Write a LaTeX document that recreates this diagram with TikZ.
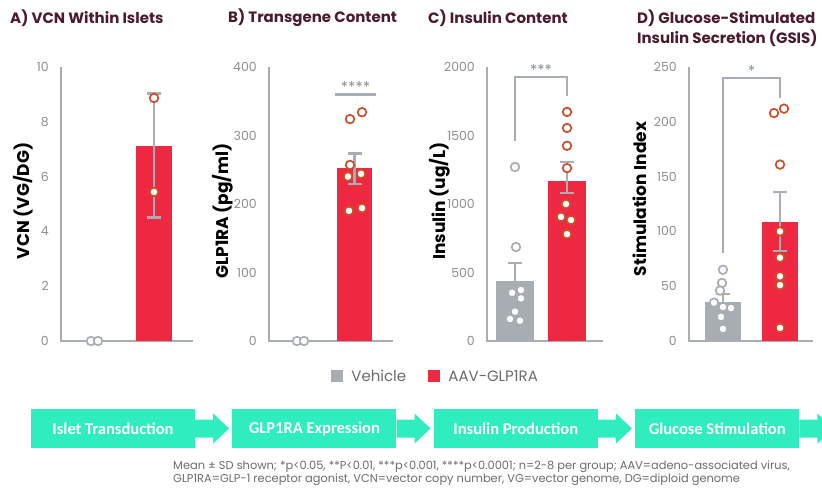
\documentclass[tikz,border=0pt]{standalone}
\usepackage{fontspec}
\setmainfont{Poppins}
\newfontfamily\stepfont{Carlito}
\usetikzlibrary{positioning}

\definecolor{vehgray}{HTML}{A8ACB3}
\definecolor{aavred}{HTML}{EF2841}
\definecolor{dotorange}{HTML}{C9502A}
\definecolor{axisgray}{HTML}{A9AEB5}
\definecolor{titlemaroon}{HTML}{4A1A2E}
\definecolor{stepteal}{HTML}{30EDBF}
\definecolor{ticktext}{HTML}{8E8E8E}
\definecolor{notegray}{HTML}{6B6B6B}

\tikzset{%
	axis line/.style={
		draw=axisgray,
		line width=2.5pt
	},
	err line/.style={
		draw=axisgray,
		line width=2.5pt
	},
	veh bar/.style={fill=vehgray},
	aav bar/.style={fill=aavred},
	veh dot/.style={draw=vehgray, fill=white, line width=1.7pt},
	aav dot/.style={draw=dotorange, fill=white, line width=1.7pt},
	panel title/.style={
		anchor=west,
		inner sep=0pt,
		align=left,
		text=titlemaroon,
		font=\bfseries\fontsize{15}{20}\selectfont
	},
	y label/.style={
		rotate=90,
		inner sep=0pt,
		font=\bfseries\fontsize{17}{17}\selectfont
	},
	tick label/.style={
		anchor=east,
		inner sep=0pt,
		text=ticktext,
		font=\fontsize{12.5}{12.5}\selectfont
	},
	sig label/.style={
		above,
		inner sep=1pt,
		text=ticktext,
		font=\fontsize{15}{15}\selectfont
	},
	legend key/.style={
		minimum size=12pt,
		inner sep=0pt
	},
	legend text/.style={
		inner sep=0pt,
		text=notegray,
		font=\fontsize{15}{15}\selectfont
	},
	step box/.style={
		fill=stepteal,
		text=white,
		minimum width=164pt,
		minimum height=39pt,
		inner sep=0pt,
		font=\stepfont\bfseries\fontsize{16.5}{16.5}\selectfont
	},
	note text/.style={
		align=left,
		inner sep=0pt,
		text=notegray,
		font=\fontsize{11.4}{11.7}\selectfont
	},
}

% SD bar with caps: x, lower, upper
\newcommand{\errbar}[3]{%
	\draw [err line] (#1,#2) -- (#1,#3) (#1-7,#3) -- (#1+7,#3) (#1-7,#2) -- (#1+7,#2);}

\begin{document}
\begin{tikzpicture}[x=1pt, y=-1pt]
		\useasboundingbox (0,0) rectangle (822,496);
		
		% A) VCN
		\node [panel title] (title-a) at (10,18) {A) VCN Within Islets};
		\node [y label] (ylab-a) at (23,201) {VCN (VG/DG)};
		\begin{scope}[xshift=61pt, yshift=-341pt, y=27.4pt]
		\foreach \v in {0,2,...,10}
		\node [tick label] (tick-a-\v) at (-12,\v) {\v};
		\draw [axis line] (0,10) -- (0,0) -- (132,0);
		\fill [aav bar] (75,0) rectangle (111,7.13);
		\errbar{93}{4.5}{9.04}
		\foreach \dx/\v in {30/0,37/0}
		\draw [veh dot] (\dx,\v) circle [radius=4.3pt];
		\foreach \dx/\v in {93/8.87,93/5.44}
		\draw [aav dot] (\dx,\v) circle [radius=4.3pt];
		\end{scope}
		
		% B) GLP1RA
		\node [panel title] (title-b) at (228,18) {B) Transgene Content};
		\node [y label] (ylab-b) at (223,211) {GLP1RA (pg/ml)};
		\begin{scope}[xshift=269pt, yshift=-341pt, y=0.685pt]
		\foreach \v in {0,100,...,400}
		\node [tick label] (tick-b-\v) at (-12,\v) {\v};
		\draw [axis line] (0,400) -- (0,0) -- (124,0);
		\fill [aav bar] (68,0) rectangle (103,252.6);
		\errbar{85.5}{229}{274}
		\draw [err line] (66,360) -- (107,360) node [sig label, midway] (sig-b) {****};
		\foreach \dx/\v in {28/0,35/0}
		\draw [veh dot] (\dx,\v) circle [radius=4.3pt];
		\foreach \dx/\v in {81/324,93/334,81/257,79/240,92/244,80/190,93/194}
		\draw [aav dot] (\dx,\v) circle [radius=4.3pt];
		\end{scope}
		
		% C) insulin
		\node [panel title] (title-c) at (428,18) {C) Insulin Content};
		\node [y label] (ylab-c) at (440,201) {Insulin (ug/L)};
		\begin{scope}[xshift=487pt, yshift=-341pt, y=0.137pt]
		\foreach \v in {0,500,...,2000}
		\node [tick label] (tick-c-\v) at (-12,\v) {\v};
		\draw [axis line] (0,2000) -- (0,0) -- (116,0);
		\fill [veh bar] (9,0) rectangle (47,438);
		\fill [aav bar] (61,0) rectangle (99,1168);
		\errbar{28}{307}{569}
		\errbar{80}{1080}{1306}
		\draw [err line] (28,1460) -- (28,1927) -- (80,1927) -- (80,1788);
		\node [sig label] (sig-c) at (54,1927) {***};
		\foreach \dx/\v in {28/1270,29/686,25/352,34/372,34/311,28/214,23/161,33/148}
		\draw [veh dot] (\dx,\v) circle [radius=4.3pt];
		\foreach \dx/\v in {80/1672,80/1555,80/1425,80/1262,79/1000,74/906,84/883,80/780}
		\draw [aav dot] (\dx,\v) circle [radius=4.3pt];
		\end{scope}
		
		% D) GSIS
		\node [panel title] (title-d) at (637,28) {D) Glucose-Stimulated\\Insulin Secretion (GSIS)};
		\node [y label] (ylab-d) at (640,199) {Stimulation Index};
		\begin{scope}[xshift=689pt, yshift=-341pt, y=1.096pt]
		\foreach \v in {0,50,...,250}
		\node [tick label] (tick-d-\v) at (-12,\v) {\v};
		\draw [axis line] (0,250) -- (0,0) -- (124,0);
		\fill [veh bar] (16,0) rectangle (52,35.6);
		\fill [aav bar] (73,0) rectangle (109,108.6);
		\errbar{34}{28}{43}
		\errbar{91}{82}{136}
		\draw [err line] (34,80) -- (34,240) -- (91,240) -- (91,222);
		\node [sig label] (sig-d) at (62.5,240) {*};
		\foreach \dx/\v in {34/65,33/53,31/46,25/35,34/31,42/30,32/22,34/11}
		\draw [veh dot] (\dx,\v) circle [radius=4.3pt];
		\foreach \dx/\v in {85/208,95/212,91/161,91/100,91/76,91/59,91/51,91/12}
		\draw [aav dot] (\dx,\v) circle [radius=4.3pt];
		\end{scope}
		
		% legend
		\node [legend key, fill=vehgray] (key-veh) at (337,376) {};
		\node [legend text, right=8pt of key-veh] (lab-veh) {Vehicle};
		\node [legend key, fill=aavred] (key-aav) at (434,376) {};
		\node [legend text, right=8pt of key-aav] (lab-aav) {AAV-GLP1RA};
		
		% process steps
		\node [step box] (step-1) at (113,428.5) {Islet Transduction};
		\node [step box, right=37pt of step-1] (step-2) {GLP1RA Expression};
		\node [step box, right=37pt of step-2] (step-3) {Insulin Production};
		\node [step box, right=37pt of step-3] (step-4) {Glucose Stimulation};
		\foreach \i in {1,...,4}
		\fill [stepteal] ([yshift=9pt]step-\i.east) -- ++(18,0) -- ++(0,-6) -- ++(16,15)
		-- ++(-16,15) -- ++(0,-6) -- ++(-18,0) -- cycle;
		
		\node [note text, anchor=north west] (note) at (173,461)
		{Mean ± SD shown; *p<0.05, **P<0.01, ***p<0.001, ****p<0.0001; n=2-8 per group; AAV=adeno-associated virus,\\
			GLP1RA=GLP-1 receptor agonist, VCN=vector copy number, VG=vector genome, DG=diploid genome};
		
\end{tikzpicture}
\end{document}
